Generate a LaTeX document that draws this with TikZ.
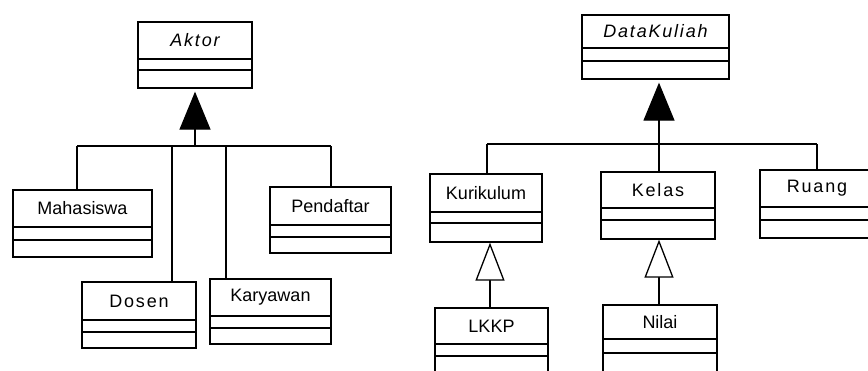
\documentclass[tikz,border=0pt]{standalone}
\usepackage{fontspec}
\setmainfont{Liberation Sans}
\newfontfamily\spacedfont[LetterSpace=10]{Liberation Sans}
\usetikzlibrary{arrows.meta,fit}
\tikzset{
  boxline/.style={line width=1.3pt},
  classbox/.style={draw, boxline, inner sep=0pt, fill=white},
  classname/.style={font=\fontsize{18}{18}\selectfont, inner sep=0pt},
  conn/.style={line width=1.3pt},
  genfilled/.style={conn, -{Triangle[width=31pt,length=38pt]}, shorten >=3pt},
  genopen/.style={conn, -{Triangle[open,width=29pt,length=38pt,fill=white]}},
}
% #1 name, #2 x1, #3 y1, #4 x2, #5 y2, #6 first compartment line, #7 second line, #8 text
\newcommand\umlclass[8]{%
  \node[classbox, fit={(#2,#3)(#4,#5)}] (#1) {};
  \draw[boxline] (#2,#6) -- (#4,#6);
  \draw[boxline] (#2,#7) -- (#4,#7);
  \node[classname] (#1-t) at ({(#2+#4)/2},{(#3+#6)/2}) {#8};
}
\begin{document}
\begin{tikzpicture}[x=1pt,y=-1pt]
\useasboundingbox (0,0) rectangle (868,370);
% ---------- left tree ----------
\umlclass{aktor}{138}{22}{252}{88}{59}{70}{\spacedfont\itshape Aktor}
\umlclass{mhs}{13}{190}{152}{257}{227}{240}{Mahasiswa}
\umlclass{pend}{270}{187}{391}{253}{225}{237}{Pendaftar}
\umlclass{dosen}{82}{282}{196}{348}{320}{332}{\spacedfont Dosen}
\umlclass{kary}{210}{279}{331}{344}{316}{328}{Karyawan}
\coordinate (jA) at (195,146);
\coordinate (bA1) at (77,146);
\coordinate (bA2) at (172,146);
\coordinate (bA3) at (226,146);
\coordinate (bA4) at (331,146);
\draw[conn] (bA1) -- (bA4);
\draw[genfilled] (jA) -- (aktor.south);
\draw[conn] (bA1) -- (bA1 |- mhs.north);
\draw[conn] (bA2) -- (bA2 |- dosen.north);
\draw[conn] (bA3) -- (bA3 |- kary.north);
\draw[conn] (bA4) -- (bA4 |- pend.north);
% ---------- right tree ----------
\umlclass{dk}{582}{15}{729}{79}{48}{61}{\spacedfont\itshape DataKuliah}
\umlclass{kur}{430}{174}{542}{242}{212}{223}{Kurikulum}
\umlclass{kelas}{601}{172}{715}{239}{208}{220}{\spacedfont Kelas}
\umlclass{ruang}{760}{170}{874}{238}{207}{220}{\spacedfont Ruang}
\umlclass{lkkp}{435}{308}{548}{385}{344}{356}{LKKP}
\umlclass{nilai}{603}{305}{717}{385}{339}{353}{Nilai}
\coordinate (jB) at (659,144);
\coordinate (bB1) at (487,144);
\coordinate (bB2) at (817,144);
\draw[conn] (bB1) -- (bB2);
\draw[genfilled] (jB) -- (jB |- dk.south);
\draw[conn] (jB) -- (jB |- kelas.north);
\draw[conn] (bB1) -- (bB1 |- kur.north);
\draw[conn] (bB2) -- (bB2 |- ruang.north);
\coordinate (oL) at (490,308);
\coordinate (oN) at (659,305);
\draw[genopen] (oL) -- (oL |- kur.south);
\draw[genopen] (oN) -- (oN |- kelas.south);
\end{tikzpicture}
\end{document}
